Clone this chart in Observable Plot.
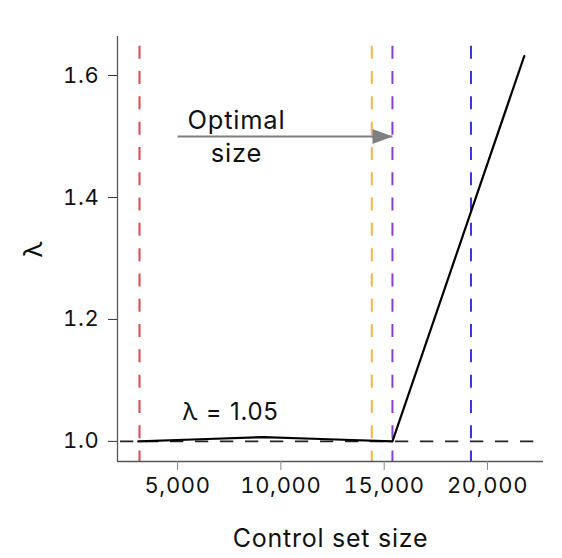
<!DOCTYPE html>
<html>
<head>
<meta charset="utf-8">
<script src="https://cdn.jsdelivr.net/npm/d3@7"></script>
<script src="https://cdn.jsdelivr.net/npm/@observablehq/plot@0.6"></script>
<style>
  html, body { margin: 0; padding: 0; background: #fff; }
  #chart svg text { letter-spacing: 0.03em; }
</style>
</head>
<body>
<div id="chart"></div>
<script>
// Data
const controlSize = [3100, 6100, 9150, 12300, 15400, 21780];
const lambda = [1.0, 1.0035, 1.007, 1.0035, 1.0, 1.632];
const markerNames = ["a", "b", "c", "d"];
const markerSizes = [3160, 14400, 15400, 19200];
const xTicks = [5000, 10000, 15000, 20000];
const yTicks = [1.0, 1.2, 1.4, 1.6];
const refLambda = 1;
const arrowFrom = 5000, arrowTo = 15400, arrowLambda = 1.5;
const annotLabel = "λ = 1.05";

const palette = ["#d9474f", "#f5b546", "#8a3fcc", "#3535e0"];
const xDomain = [2095, 22710];
const yDomain = [0.967, 1.664];

const curve = controlSize.map((x, i) => ({x, y: lambda[i]}));
const vlines = markerNames.map((k, i) => ({k, x: markerSizes[i]}));

function filledArrow(color) {
  const ns = "http://www.w3.org/2000/svg";
  const m = document.createElementNS(ns, "marker");
  m.setAttribute("viewBox", "-20 -8 20 16");
  m.setAttribute("markerWidth", 20);
  m.setAttribute("markerHeight", 16);
  m.setAttribute("markerUnits", "userSpaceOnUse");
  m.setAttribute("refX", 0);
  m.setAttribute("refY", 0);
  m.setAttribute("orient", "auto");
  const p = document.createElementNS(ns, "path");
  p.setAttribute("d", "M-20,-7.5L0,0L-20,7.5Z");
  p.setAttribute("fill", color);
  p.setAttribute("stroke", "none");
  m.appendChild(p);
  return m;
}

const chart = Plot.plot({
  width: 562,
  height: 558,
  marginLeft: 117,
  marginRight: 19,
  marginTop: 36,
  marginBottom: 97,
  style: {fontFamily: "Inter, sans-serif", fontSize: "22px", color: "#111", background: "#fff"},
  x: {domain: xDomain},
  y: {domain: yDomain},
  color: {domain: markerNames, range: palette},
  marks: [
    Plot.ruleX(vlines, {x: "x", y1: 1.648, y2: yDomain[0], stroke: "k", strokeWidth: 2, strokeDasharray: "13,12.3"}),
    Plot.ruleY([refLambda], {stroke: "#222", strokeWidth: 1.8, strokeDasharray: "13.3,11.7", strokeDashoffset: -3}),
    Plot.line(curve, {x: "x", y: "y", stroke: "#000", strokeWidth: 2.2}),
    Plot.link([{x1: arrowFrom, x2: arrowTo, y: arrowLambda}], {x1: "x1", x2: "x2", y1: "y", y2: "y", stroke: "#7f7f7f", strokeWidth: 2, markerEnd: filledArrow}),
    Plot.text(["Optimal"], {x: 7850, y: 1.5115, textAnchor: "middle", lineAnchor: "bottom", fontSize: 25.5}),
    Plot.text(["size"], {x: 7850, y: 1.459, textAnchor: "middle", lineAnchor: "bottom", fontSize: 25.5}),
    Plot.text([annotLabel], {x: 5230, y: 1.0344, textAnchor: "start", lineAnchor: "bottom", fontSize: 24}),
    Plot.ruleX([xDomain[0]], {stroke: "#555", strokeWidth: 1.3}),
    Plot.ruleY([yDomain[0]], {stroke: "#555", strokeWidth: 1.3}),
    Plot.axisX({ticks: xTicks, tickFormat: d3.format(","), tickSize: 9, tickPadding: 7, stroke: "#888", fill: "#111", label: null}),
    Plot.axisY({ticks: yTicks, tickFormat: d3.format(".1f"), tickSize: 9, tickPadding: 9, stroke: "#333", fill: "#111", label: null}),
    Plot.text(["Control set size"], {frameAnchor: "bottom", lineAnchor: "bottom", dy: 85, fontSize: 25}),
    Plot.text(["λ"], {frameAnchor: "left", rotate: -90, textAnchor: "middle", lineAnchor: "middle", dx: -84, fontSize: 26})
  ]
});
document.getElementById("chart").appendChild(chart);
</script>
</body>
</html>
